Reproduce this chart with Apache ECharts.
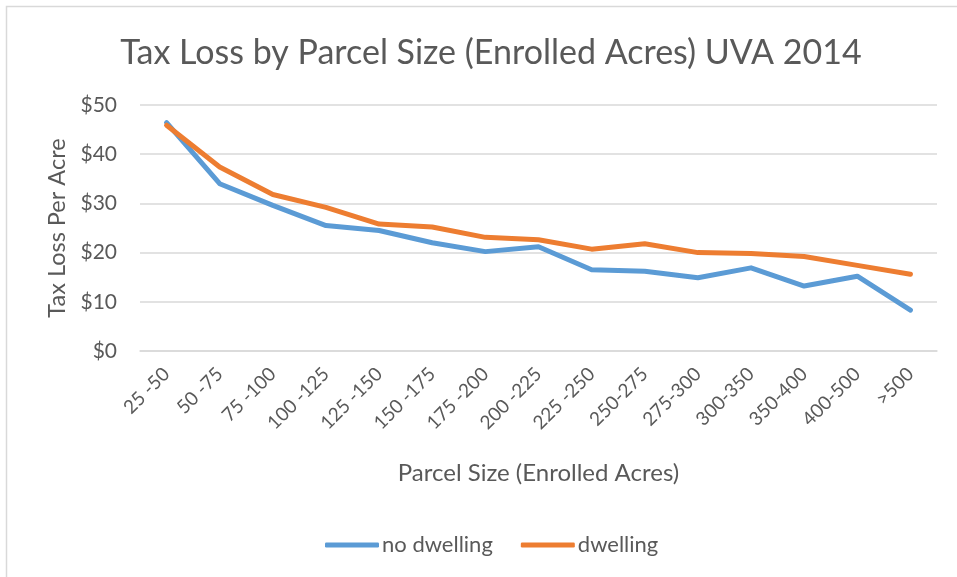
<!DOCTYPE html>
<html>
<head>
<meta charset="utf-8">
<title>Tax Loss by Parcel Size</title>
<script src="https://cdn.jsdelivr.net/npm/echarts@6/dist/echarts.min.js"></script>
<style>
  html, body { margin: 0; padding: 0; background: #fff; }
  #chart { width: 957px; height: 577px; }
</style>
</head>
<body>
<div id="chart"></div>
<script>
// parcel size buckets (enrolled acres)
var categories = ['25 -50', '50 -75', '75 -100', '100 -125', '125 -150', '150 -175', '175 -200',
  '200 -225', '225 -250', '250-275', '275-300', '300-350', '350-400', '400-500', '>500'];
// tax loss per acre, $
var noDwelling = [46.4, 34.0, 29.6, 25.5, 24.5, 22.0, 20.2, 21.2, 16.5, 16.2, 14.9, 16.9, 13.2, 15.2, 8.3];
var dwelling = [45.9, 37.4, 31.8, 29.2, 25.8, 25.2, 23.1, 22.6, 20.7, 21.8, 20.0, 19.8, 19.2, 17.4, 15.6];
var yTicks = [0, 10, 20, 30, 40, 50];

var font = 'Lato, "Open Sans", sans-serif';
var textColor = '#595959';
var gridColor = '#d9d9d9';

var chart = echarts.init(document.getElementById('chart'));

function lineSeries(name, data, color) {
  return {
    name: name,
    type: 'line',
    data: data,
    symbol: 'none',
    smooth: false,
    lineStyle: { color: color, width: 5, cap: 'round', join: 'round' },
    itemStyle: { color: color }
  };
}

var option = {
  animation: false,
  backgroundColor: '#fff',
  textStyle: { fontFamily: font, color: textColor },
  graphic: [{
    type: 'rect',
    silent: true,
    shape: { x: 6.5, y: 6.5, width: 1000, height: 1000 },
    style: { fill: 'none', stroke: gridColor, lineWidth: 1.5 }
  }],
  title: {
    text: 'Tax Loss by Parcel Size (Enrolled Acres) UVA 2014',
    left: 486,
    textAlign: 'center',
    top: 31,
    textStyle: { fontFamily: font, fontSize: 34, fontWeight: 'normal', color: textColor }
  },
  legend: {
    left: 320,
    top: 529,
    icon: 'roundRect',
    itemWidth: 54,
    itemHeight: 5,
    itemGap: 28,
    textStyle: { fontFamily: font, fontSize: 22, color: textColor, padding: [0, 0, 0, -2] },
    data: ['no dwelling', 'dwelling']
  },
  grid: { left: 140, right: 20, top: 105, bottom: 226, containLabel: false },
  xAxis: {
    type: 'category',
    data: categories,
    boundaryGap: true,
    name: 'Parcel Size (Enrolled Acres)',
    nameLocation: 'middle',
    nameGap: 110,
    nameTextStyle: { fontFamily: font, fontSize: 24, color: textColor },
    axisLine: { show: true, lineStyle: { color: gridColor, width: 1.5 } },
    axisTick: { show: false },
    axisLabel: { rotate: 45, margin: 20, interval: 0, fontFamily: font, fontSize: 19, color: textColor }
  },
  yAxis: {
    type: 'value',
    min: yTicks[0],
    max: yTicks[yTicks.length - 1],
    interval: 10,
    name: 'Tax Loss Per Acre',
    nameLocation: 'middle',
    nameGap: 71,
    nameTextStyle: { fontFamily: font, fontSize: 23.5, color: textColor },
    axisLine: { show: false },
    axisTick: { show: false },
    splitLine: { lineStyle: { color: gridColor, width: 1.5 } },
    axisLabel: {
      margin: 23,
      fontFamily: font,
      fontSize: 21,
      color: textColor,
      formatter: function(v) { return '$' + v; }
    }
  },
  series: [
    lineSeries('no dwelling', noDwelling, '#5B9BD5'),
    lineSeries('dwelling', dwelling, '#ED7D31')
  ]
};

chart.setOption(option);
</script>
</body>
</html>
